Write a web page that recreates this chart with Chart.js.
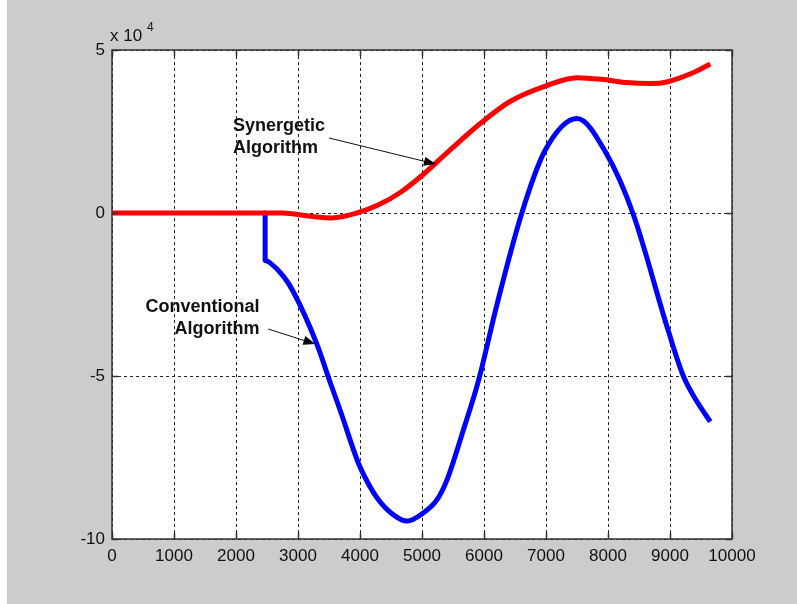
<!DOCTYPE html>
<html>
<head>
<meta charset="utf-8">
<script src="https://cdn.jsdelivr.net/npm/chart.js@4/dist/chart.umd.min.js"></script>
<style>
  html, body { margin: 0; padding: 0; background: #fff; }
  #wrap { width: 797px; height: 604px; }
</style>
</head>
<body>
<div id="wrap"><canvas id="c" width="797" height="604"></canvas></div>
<script>
// values (y in raw units, axis shows x 10^4)
const synergeticX = [0, 2750, 3200, 3550, 3950, 4300, 4650, 5000, 5450, 5950, 6420, 7000, 7500, 7900, 8300, 8700, 8950, 9370, 9650];
const synergeticY = [0, 0, -1000, -1500, 0, 2500, 6300, 11500, 19300, 27600, 34200, 39000, 41500, 41000, 40000, 39700, 40200, 43000, 45700];

// the drop at the switch-on instant
const jumpX = [2470, 2470];
const jumpY = [0, -14500];

const conventionalX = [2470, 2550, 2760, 2920, 3300, 3520, 3680, 3980, 4120, 4280, 4500, 4760, 5020, 5240, 5400, 5660, 5910, 6210, 6610, 6980, 7500, 7980, 8400, 8970, 9215, 9430, 9650];
const conventionalY = [-14500, -15300, -19300, -24000, -40000, -52000, -60500, -77000, -82500, -87500, -92000, -94500, -92000, -88000, -82000, -67000, -51500, -28000, 0, 19000, 29000, 18000, 0, -36000, -50000, -57700, -64000];

const xTicks = [0, 1000, 2000, 3000, 4000, 5000, 6000, 7000, 8000, 9000, 10000];
const yTicks = [-100000, -50000, 0, 50000];

const FONT = "'Liberation Sans', Arial, sans-serif";

const toPoints = (xs, ys) => xs.map((x, i) => ({ x, y: ys[i] }));

// text labels with arrows, given in data coordinates
const NOTES = [
  { lines: ["Synergetic", "Algorithm"], align: "left", x: 1950, y: [26700, 20000], from: [3500, 23000], to: [5225, 15000] },
  { lines: ["Conventional", "Algorithm"], align: "right", x: 2380, y: [-28800, -35500], from: [2520, -35600], to: [3280, -40200] },
];

const frameAndNotes = {
  id: "frameAndNotes",
  beforeDraw: (chart) => {
    const ctx = chart.ctx;
    ctx.save();
    ctx.fillStyle = "#fff";
    ctx.fillRect(0, 0, chart.width, chart.height);
    ctx.fillStyle = "#cccccc";
    ctx.fillRect(7, 0, chart.width - 7, chart.height);
    const a = chart.chartArea;
    ctx.fillStyle = "#fff";
    ctx.fillRect(a.left, a.top, a.right - a.left, a.bottom - a.top);
    ctx.restore();
  },
  afterDraw: (chart) => {
    const ctx = chart.ctx;
    const a = chart.chartArea;
    const xs = chart.scales.x;
    const ys = chart.scales.y;
    ctx.save();
    // inward tick marks
    ctx.strokeStyle = "#333";
    ctx.lineWidth = 1.5;
    ctx.beginPath();
    xTicks.forEach((t) => {
      const px = Math.round(xs.getPixelForValue(t)) + 0.5;
      ctx.moveTo(px, a.bottom);
      ctx.lineTo(px, a.bottom - 6);
      ctx.moveTo(px, a.top);
      ctx.lineTo(px, a.top + 6);
    });
    yTicks.forEach((t) => {
      const py = Math.round(ys.getPixelForValue(t)) + 0.5;
      ctx.moveTo(a.left, py);
      ctx.lineTo(a.left + 6, py);
      ctx.moveTo(a.right, py);
      ctx.lineTo(a.right - 6, py);
    });
    ctx.stroke();
    // frame
    ctx.strokeRect(a.left, a.top, a.right - a.left, a.bottom - a.top);

    // exponent label
    ctx.fillStyle = "#111";
    ctx.font = "17px " + FONT;
    ctx.textBaseline = "alphabetic";
    ctx.textAlign = "left";
    ctx.fillText("x 10", a.left - 2, a.top - 9);
    ctx.font = "12px " + FONT;
    ctx.fillText("4", a.left + 35, a.top - 19);

    // notes
    NOTES.forEach((n) => {
      ctx.font = "bold 18px " + FONT;
      ctx.fillStyle = "#111";
      ctx.textAlign = n.align;
      ctx.textBaseline = "middle";
      const tx = xs.getPixelForValue(n.x);
      n.lines.forEach((line, i) => ctx.fillText(line, tx, ys.getPixelForValue(n.y[i])));
      const x0 = xs.getPixelForValue(n.from[0]);
      const y0 = ys.getPixelForValue(n.from[1]);
      const x1 = xs.getPixelForValue(n.to[0]);
      const y1 = ys.getPixelForValue(n.to[1]);
      const ang = Math.atan2(y1 - y0, x1 - x0);
      ctx.strokeStyle = "#111";
      ctx.lineWidth = 1;
      ctx.beginPath();
      ctx.moveTo(x0, y0);
      ctx.lineTo(x1 - 8 * Math.cos(ang), y1 - 8 * Math.sin(ang));
      ctx.stroke();
      ctx.fillStyle = "#000";
      ctx.beginPath();
      ctx.moveTo(x1, y1);
      ctx.lineTo(x1 - 12 * Math.cos(ang) + 4.5 * Math.sin(ang), y1 - 12 * Math.sin(ang) - 4.5 * Math.cos(ang));
      ctx.lineTo(x1 - 12 * Math.cos(ang) - 4.5 * Math.sin(ang), y1 - 12 * Math.sin(ang) + 4.5 * Math.cos(ang));
      ctx.closePath();
      ctx.fill();
    });
    ctx.restore();
  },
};

const gridOpts = {
  color: "#222",
  lineWidth: 1,
  drawTicks: false,
};

const lineStyle = (color) => ({
  borderColor: color,
  borderWidth: 5,
  pointRadius: 0,
  cubicInterpolationMode: "monotone",
  borderCapStyle: "butt",
  borderJoinStyle: "round",
});

new Chart(document.getElementById("c"), {
  type: "line",
  data: {
    datasets: [
      { label: "Conventional Algorithm", data: toPoints(jumpX, jumpY), ...lineStyle("#0000ff"), cubicInterpolationMode: "default", tension: 0, order: 3 },
      { label: "Conventional Algorithm", data: toPoints(conventionalX, conventionalY), ...lineStyle("#0000ff"), order: 2 },
      { label: "Synergetic Algorithm", data: toPoints(synergeticX, synergeticY), ...lineStyle("#ff0000"), order: 1 },
    ],
  },
  options: {
    responsive: false,
    animation: false,
    layout: { padding: { top: 50, right: 65, left: 0, bottom: 0 } },
    plugins: { legend: { display: false }, tooltip: { enabled: false } },
    scales: {
      x: {
        type: "linear",
        min: 0,
        max: 10000,
        afterFit: (s) => { s.height = 65; },
        afterBuildTicks: (s) => { s.ticks = xTicks.map((v) => ({ value: v })); },
        grid: gridOpts,
        border: { display: false, dash: [3, 3] },
        ticks: {
          color: "#111",
          padding: 7,
          maxRotation: 0,
          autoSkip: false,
          font: { family: FONT, size: 17 },
          callback: (v) => String(v),
        },
      },
      y: {
        type: "linear",
        min: -100000,
        max: 50000,
        afterFit: (s) => { s.width = 112; },
        afterBuildTicks: (s) => { s.ticks = yTicks.map((v) => ({ value: v })); },
        grid: gridOpts,
        border: { display: false, dash: [3, 3] },
        ticks: {
          color: "#111",
          padding: 7,
          font: { family: FONT, size: 17 },
          callback: (v) => String(v / 10000),
        },
      },
    },
  },
  plugins: [frameAndNotes],
});
</script>
</body>
</html>
